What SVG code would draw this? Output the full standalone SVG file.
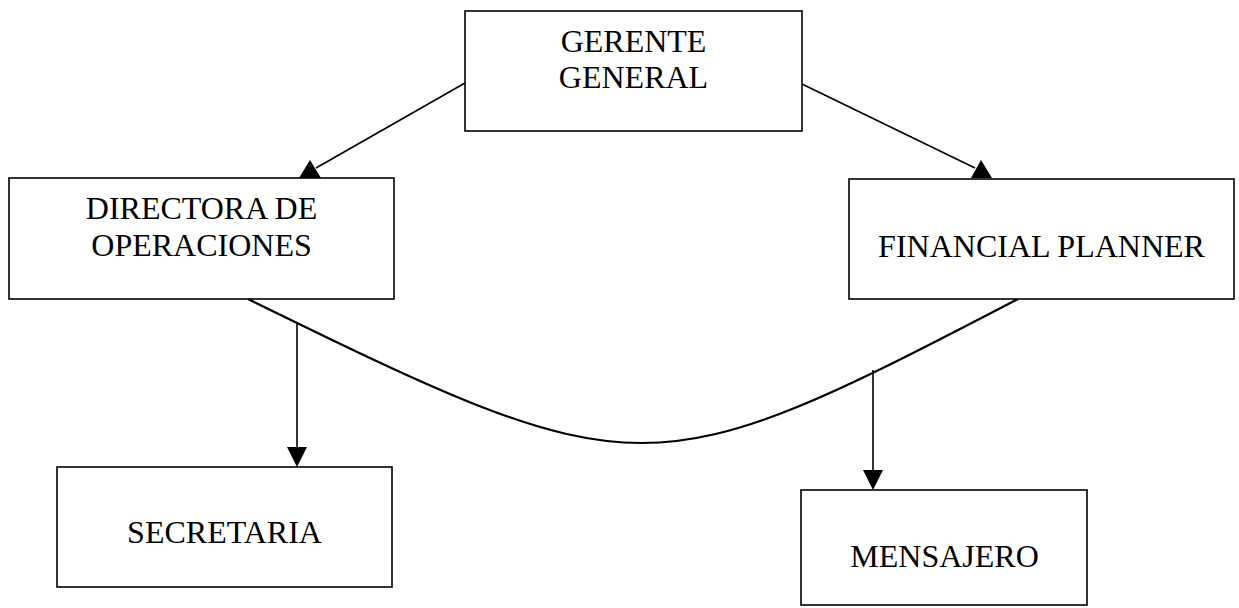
<svg xmlns="http://www.w3.org/2000/svg" width="1239" height="608" viewBox="0 0 1239 608">
<style>
.box{fill:#fff;stroke:#000;stroke-width:1.6}
.lbl{font-family:"Liberation Serif","Times New Roman",serif;font-size:32px;fill:#000;text-anchor:middle}
.ln{fill:none;stroke:#000;stroke-width:1.6}
.cv{fill:none;stroke:#000;stroke-width:2.2}
.ah{fill:#000;stroke:none}
</style>
<rect width="1239" height="608" fill="#fff"/>
<g id="connectors">
<line class="ln" x1="465" y1="83" x2="316" y2="168"/>
<polygon class="ah" points="299,178 310,160 321,178"/>
<line class="ln" x1="802" y1="84" x2="975" y2="168"/>
<polygon class="ah" points="971,178 981,160 992,178"/>
<path class="cv" d="M248,299 C640,491 649,491 1018,299"/>
<line class="ln" x1="297" y1="322" x2="297" y2="448"/>
<polygon class="ah" points="287,447 307,447 297,467"/>
<line class="ln" x1="873" y1="370" x2="873" y2="472"/>
<polygon class="ah" points="863,470 883,470 873,490"/>
</g>
<g id="gerente">
<rect class="box" x="465" y="11" width="337" height="120"/>
<text class="lbl" x="633.5" y="52">GERENTE</text>
<text class="lbl" x="633.5" y="88">GENERAL</text>
</g>
<g id="directora">
<rect class="box" x="9" y="178" width="385" height="121"/>
<text class="lbl" x="201.5" y="219">DIRECTORA DE</text>
<text class="lbl" x="201.5" y="256">OPERACIONES</text>
</g>
<g id="financial">
<rect class="box" x="849" y="179" width="385" height="120"/>
<text class="lbl" x="1041.5" y="257">FINANCIAL PLANNER</text>
</g>
<g id="secretaria">
<rect class="box" x="57" y="467" width="335" height="120"/>
<text class="lbl" x="224.5" y="543">SECRETARIA</text>
</g>
<g id="mensajero">
<rect class="box" x="801" y="490" width="286" height="115"/>
<text class="lbl" x="944.5" y="567">MENSAJERO</text>
</g>
</svg>
